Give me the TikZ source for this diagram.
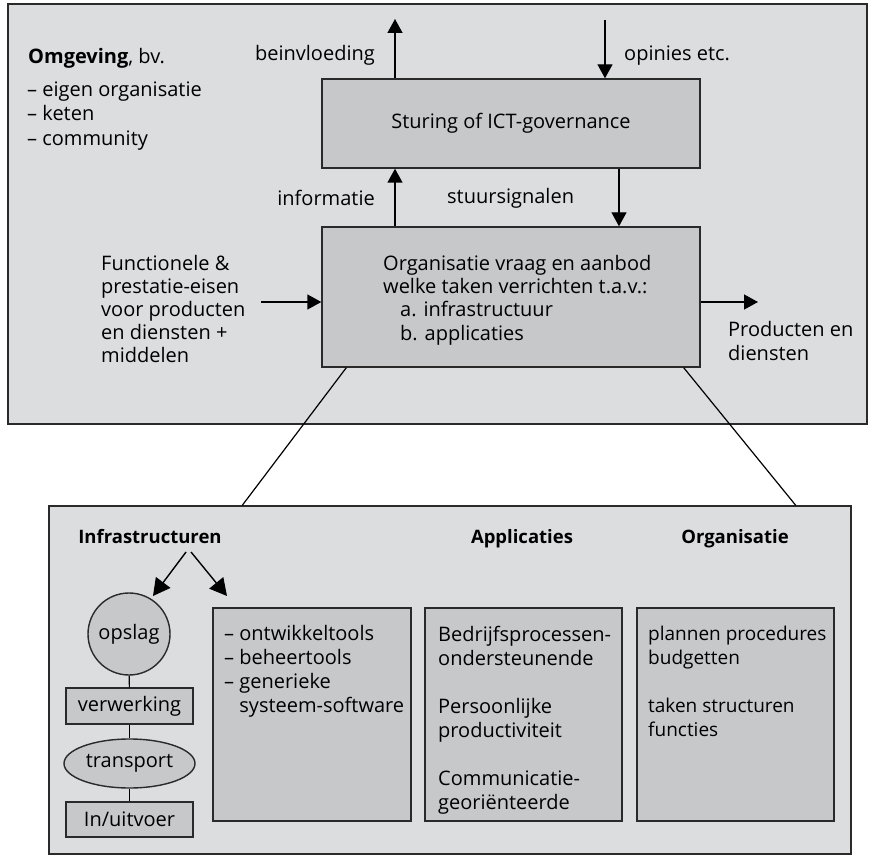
\documentclass[tikz,border=0pt]{standalone}
\usepackage{fontspec}
\setmainfont{Open Sans}
\usetikzlibrary{arrows.meta,shapes.geometric}
\definecolor{panelgray}{HTML}{DCDDDF}
\definecolor{boxgray}{HTML}{C7C8CA}
\definecolor{edgegray}{HTML}{2A2A2A}
\begin{document}
\begin{tikzpicture}[x=1pt,y=-1pt,
  font=\fontsize{20}{24}\selectfont,
  panel/.style={draw=edgegray, line width=1.4pt, fill=panelgray, inner sep=0pt},
  block/.style={draw=edgegray, line width=1.4pt, fill=boxgray, inner sep=0pt},
  txt/.style={inner sep=0pt, align=left, anchor=north west, execute at begin node={\rule{0pt}{17pt}}},
  label/.style={inner sep=0pt},
  flow/.style={line width=1.4pt, -{Triangle[length=14pt,width=15pt]}},
  bigflow/.style={line width=1.4pt, -{Triangle[length=17pt,width=18pt]}},
  link/.style={line width=1.2pt},
  head/.style={inner sep=0pt, anchor=base, font=\fontsize{18.5}{24}\selectfont\bfseries}
]
\useasboundingbox (0,0) rectangle (871,856);

% environment panel
\node[panel, minimum width=859pt, minimum height=420pt] (env) at (437.5,214) {};

% governance and organisation boxes
\node[block, minimum width=378pt, minimum height=89pt] (gov) at (511,123.5) {Sturing of ICT-governance};
\node[block, minimum width=378pt, minimum height=140pt] (org) at (511,297) {};

\node[txt] (omg) at (28,46) {\textbf{Omgeving}, bv.};
\node[txt, font=\fontsize{20}{24.5}\selectfont] (omglist) at (27,81.5) {– eigen organisatie\\– keten\\– community};

% external flows of the governance box
\coordinate (beinTop) at (395,19);
\coordinate (opinTop) at (605,20);
\draw[flow] ([xshift=-116pt]gov.north) -- (beinTop);
\draw[flow] (opinTop) -- ([xshift=94pt]gov.north);
\node[label, anchor=base east] (bein) at (375,61) {beinvloeding};
\node[label, anchor=base west] (opin) at (624,61) {opinies etc.};

% flows between organisation and governance
\draw[flow] ([xshift=-116pt]org.north) -- ([xshift=-116pt]gov.south);
\draw[flow] ([xshift=108pt]gov.south) -- ([xshift=108pt]org.north);
\node[label, anchor=base east] (info) at (375,206) {informatie};
\node[label, anchor=base west] (stuur) at (447,204) {stuursignalen};

% organisation box text
\node[txt, font=\fontsize{20}{23.3}\selectfont] (orgtext) at (383,255) {Organisatie vraag en aanbod\\welke taken verrichten t.a.v.:\\\hspace*{17pt}a. infrastructuur\\\hspace*{17pt}b. applicaties};

% inputs and outputs
\node[txt, font=\fontsize{20}{23}\selectfont] (eisen) at (101,255) {Functionele \&\\prestatie-eisen\\voor producten\\en diensten +\\middelen};
\coordinate (inStart) at (261,302);
\coordinate (outEnd) at (758,302);
\draw[flow] (inStart) -- (inStart -| org.west);
\draw[flow] (outEnd -| org.east) -- (outEnd);
\node[txt] (prod) at (728,321) {Producten en\\diensten};

% detail panel
\node[panel, minimum width=802pt, minimum height=348pt] (detail) at (450,680) {};
\draw[link] ([xshift=25pt]org.south west) -- ([xshift=194pt]detail.north west);
\draw[link] ([xshift=-17pt]org.south east) -- ([xshift=-56pt]detail.north east);

\node[head] (hinfra) at (150,543) {Infrastructuren};
\node[head] (happ) at (522,543) {Applicaties};
\node[head] (horg) at (735,543) {Organisatie};

% infrastructure chain
\node[block, circle, minimum size=82pt] (opslag) at (129,634) {opslag};
\node[block, minimum width=127pt, minimum height=36pt] (verw) at (129.5,706) {verwerking};
\node[block, ellipse, minimum width=131pt, minimum height=49pt] (transp) at (129.5,763.5) {transport};
\node[block, minimum width=127pt, minimum height=35pt] (inuit) at (129.5,819.5) {In/uitvoer};
\draw[link] (opslag) -- (verw);
\draw[link] (verw) -- (transp);
\draw[link] (transp) -- (inuit);

% tool, application and organisation boxes
\node[block, minimum width=198pt, minimum height=213pt] (tools) at (312,714.5) {};
\node[block, minimum width=197pt, minimum height=213pt] (apps) at (523.5,714.5) {};
\node[block, minimum width=197pt, minimum height=213pt] (orgs) at (735.5,714.5) {};

\node[txt] (toolstext) at (224,625.5) {– ontwikkeltools\\– beheertools\\– generieke\\\hphantom{– }systeem-software};
\node[txt] (appstext) at (438,625.5) {Bedrijfsprocessen-\\ondersteunende\\[24pt]Persoonlijke\\productiviteit\\[24pt]Communicatie-\\georiënteerde};
\node[txt, font=\fontsize{19}{24}\selectfont] (orgstext) at (648,625.5) {plannen procedures\\budgetten\\[24pt]taken structuren\\functies};

% arrows from the infrastructure heading
\coordinate (splitL) at (186,552);
\coordinate (splitR) at (191,552);
\coordinate (tipL) at (153,596);
\coordinate (tipR) at (227,596);
\draw[bigflow] (splitL) -- (tipL);
\draw[bigflow] (splitR) -- (tipR);
\end{tikzpicture}
\end{document}
